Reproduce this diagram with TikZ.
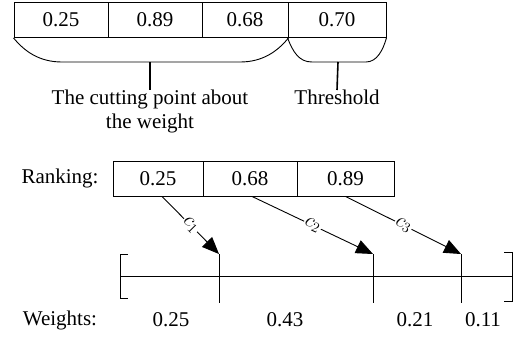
\documentclass[tikz,border=0pt]{standalone}
\usepackage{fontspec}
\setmainfont{Liberation Serif}
\usetikzlibrary{arrows.meta,positioning}

\begin{document}
\begin{tikzpicture}[x=1pt,y=-1pt,font=\fontsize{21}{24}\selectfont,
  cell/.style={draw, line width=0.9pt, minimum height=35pt, inner sep=0pt},
  brace/.style={line width=0.9pt},
  stem/.style={line width=1.6pt},
  cut/.style={line width=0.9pt, -{Triangle[length=17pt,width=14pt]}},
  lbl/.style={sloped, fill=white, inner sep=1pt}]
\useasboundingbox (0,0) rectangle (518,337);
% Weights and threshold
\node[cell, minimum width=94pt] (w1) at (61,20) {0.25};
\node[cell, minimum width=94pt] (w2) at (155,20) {0.89};
\node[cell, minimum width=86pt] (w3) at (245,20) {0.68};
\node[cell, minimum width=98pt] (w4) at (337,20) {0.70};
% Braces under the box
\draw[brace] (w1.south west) .. controls (25,52) and (40,62) .. (62,62) -- (240,62) .. controls (262,62) and (277,52) .. (w3.south east);
\draw[brace] (w4.south west) .. controls (293,52) and (299,62) .. (312,62) -- (366,62) .. controls (377,62) and (383,50) .. (w4.south east);
\coordinate (cutmid) at (150,62);
\coordinate (thrmid) at (338,62);
\node[align=center, anchor=north, inner sep=0pt] (cuttxt) at (150,90) {The cutting point about\\the weight};
\node[anchor=north, inner sep=0pt] (thrtxt) at (337,90) {Threshold};
\draw[stem] (cutmid) -- (cuttxt.north);
\draw[stem] (thrmid) -- (thrtxt.north);
% Ranking
\node (rlab) at (60,178) {Ranking:};
\node[cell, minimum width=90pt] (r1) at (158,178.5) {0.25};
\node[cell, minimum width=94pt] (r2) at (250,178.5) {0.68};
\node[cell, minimum width=97pt] (r3) at (345.5,178.5) {0.89};
% Axis with cutting points
\coordinate (t1) at (219,254);
\coordinate (t2) at (373,254);
\coordinate (t3) at (461,254);
\draw[line width=0.9pt] (120,276) -- (512,276);
\draw[line width=0.9pt] (128,254) -- (120,254) -- (120,298) -- (128,298);
\draw[line width=0.9pt] (504,252) -- (512,252) -- (512,301) -- (504,301);
\foreach \t in {t1,t2,t3}
  \draw[line width=0.9pt] (\t) -- ++(0,49);
\draw[cut] ([xshift=4pt]r1.south) -- node[lbl] {$c_1$} (t1);
\draw[cut] ([xshift=2pt]r2.south) -- node[lbl] {$c_2$} (t2);
\draw[cut] (r3.south) -- node[lbl] {$c_3$} (t3);
% Weights
\node (wlab) at (60,320) {Weights:};
\node (v1) at (171,320) {0.25};
\node (v2) at (285,320) {0.43};
\node (v3) at (415,320) {0.21};
\node (v4) at (483,320) {0.11};
\end{tikzpicture}
\end{document}
